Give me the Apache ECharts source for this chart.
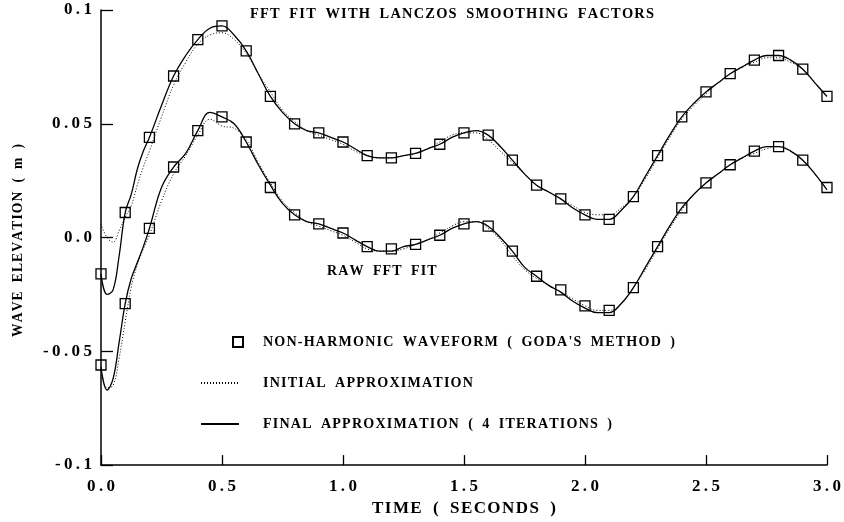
<!DOCTYPE html>
<html>
<head>
<meta charset="utf-8">
<script src="https://cdn.jsdelivr.net/npm/echarts@6/dist/echarts.min.js"></script>
<style>
  html, body { margin: 0; padding: 0; background: #fff; }
  #chart { width: 844px; height: 522px; }
</style>
</head>
<body>
<div id="chart"></div>
<script>
// Sample times (s) of the non-harmonic waveform (Goda's method)
const sampleTime = [0.0, 0.1, 0.2, 0.3, 0.4, 0.5, 0.6, 0.7, 0.8, 0.9, 1.0,
  1.1, 1.2, 1.3, 1.4, 1.5, 1.6, 1.7, 1.8, 1.9, 2.0,
  2.1, 2.2, 2.3, 2.4, 2.5, 2.6, 2.7, 2.8, 2.9, 3.0];

// Goda waveform, plotted with the Lanczos-smoothed fit (offset upward)
const godaLanczos = [-0.016, 0.011, 0.044, 0.071, 0.087, 0.093, 0.082, 0.062, 0.050, 0.046, 0.042,
  0.036, 0.035, 0.037, 0.041, 0.046, 0.045, 0.034, 0.023, 0.017, 0.010,
  0.008, 0.018, 0.036, 0.053, 0.064, 0.072, 0.078, 0.080, 0.074, 0.062];

// Goda waveform, plotted with the raw FFT fit
const godaRaw = [-0.056, -0.029, 0.004, 0.031, 0.047, 0.053, 0.042, 0.022, 0.010, 0.006, 0.002,
  -0.004, -0.005, -0.003, 0.001, 0.006, 0.005, -0.006, -0.017, -0.023, -0.030,
  -0.032, -0.022, -0.004, 0.013, 0.024, 0.032, 0.038, 0.040, 0.034, 0.022];

// Times (s) at which the fitted curves are given
const curveTime = [0, 0.025, 0.05, 0.075, 0.1, 0.125, 0.15, 0.175, 0.2,
  0.25, 0.3, 0.35, 0.4, 0.45, 0.5, 0.55, 0.6, 0.65, 0.7, 0.75, 0.8, 0.85, 0.9, 0.95, 1.0,
  1.05, 1.1, 1.15, 1.2, 1.25, 1.3, 1.35, 1.4, 1.45, 1.5, 1.55, 1.6, 1.65, 1.7, 1.75, 1.8,
  1.85, 1.9, 1.95, 2.0, 2.05, 2.1, 2.15, 2.2, 2.25, 2.3, 2.35, 2.4, 2.45, 2.5, 2.55, 2.6,
  2.65, 2.7, 2.75, 2.8, 2.85, 2.9, 2.95, 3.0];

// Lanczos-smoothed fit: final approximation (4 iterations)
const lanczosFinal = [-0.016, -0.025, -0.023, -0.008, 0.011, 0.019, 0.030, 0.038, 0.044,
  0.058, 0.071, 0.080, 0.087, 0.092, 0.093, 0.089, 0.082, 0.072, 0.062, 0.055, 0.050, 0.047, 0.046, 0.044, 0.042,
  0.039, 0.036, 0.035, 0.035, 0.036, 0.037, 0.039, 0.041, 0.044, 0.046, 0.047, 0.045, 0.040, 0.034, 0.028, 0.023,
  0.020, 0.017, 0.013, 0.010, 0.008, 0.008, 0.012, 0.018, 0.027, 0.036, 0.045, 0.053, 0.059, 0.064, 0.068, 0.072,
  0.075, 0.078, 0.080, 0.080, 0.078, 0.074, 0.068, 0.062];

// Lanczos-smoothed fit: initial approximation
const lanczosInitial = [0.006, 0.000, -0.002, 0.003, 0.009, 0.014, 0.023, 0.031, 0.038,
  0.053, 0.067, 0.077, 0.085, 0.089, 0.090, 0.087, 0.081, 0.072, 0.064, 0.056, 0.051, 0.047, 0.045, 0.043, 0.041,
  0.038, 0.036, 0.035, 0.035, 0.036, 0.037, 0.039, 0.042, 0.045, 0.046, 0.046, 0.043, 0.038, 0.033, 0.028, 0.023,
  0.020, 0.017, 0.014, 0.011, 0.010, 0.010, 0.013, 0.018, 0.026, 0.035, 0.044, 0.052, 0.058, 0.063, 0.068, 0.072,
  0.075, 0.077, 0.079, 0.079, 0.077, 0.074, 0.068, 0.062];

// Raw FFT fit: final approximation (4 iterations)
const rawFinal = [-0.057, -0.067, -0.062, -0.046, -0.029, -0.018, -0.011, -0.004, 0.004,
  0.022, 0.031, 0.037, 0.047, 0.055, 0.053, 0.050, 0.042, 0.032, 0.023, 0.015, 0.010, 0.007, 0.006, 0.004, 0.002,
  -0.001, -0.004, -0.006, -0.006, -0.004, -0.003, -0.001, 0.001, 0.004, 0.006, 0.007, 0.005, 0.000, -0.006, -0.013, -0.017,
  -0.021, -0.024, -0.028, -0.031, -0.033, -0.033, -0.029, -0.022, -0.013, -0.004, 0.005, 0.013, 0.019, 0.024, 0.028, 0.032,
  0.035, 0.038, 0.040, 0.040, 0.038, 0.034, 0.028, 0.021];

// Raw FFT fit: initial approximation
const rawInitial = [-0.058, -0.066, -0.065, -0.053, -0.037, -0.022, -0.012, -0.005, 0.001,
  0.016, 0.028, 0.036, 0.045, 0.052, 0.049, 0.048, 0.043, 0.033, 0.024, 0.016, 0.011, 0.007, 0.005, 0.003, 0.001,
  -0.002, -0.005, -0.006, -0.006, -0.005, -0.003, -0.001, 0.002, 0.005, 0.007, 0.007, 0.004, -0.001, -0.008, -0.014, -0.018,
  -0.021, -0.024, -0.027, -0.030, -0.032, -0.032, -0.029, -0.022, -0.014, -0.005, 0.004, 0.012, 0.019, 0.024, 0.028, 0.032,
  0.035, 0.037, 0.039, 0.040, 0.038, 0.034, 0.028, 0.021];

const NAME_GODA = "NON-HARMONIC WAVEFORM ( GODA'S METHOD )";
const NAME_INITIAL = 'INITIAL APPROXIMATION';
const NAME_FINAL = 'FINAL APPROXIMATION ( 4 ITERATIONS )';

const FONT = "'Liberation Serif', 'DejaVu Serif', serif";
// Plotter-style lettering: hair spaces between letters, en spaces between words
const spaced = s => s.split('').map(c => (c === ' ' ? '\u2002' : c)).join('\u200A');
// Tick numbers get a slightly wider tracking
const spacedNum = s => s.split('').join('\u2009');

const zip = (xs, ys) => xs.map((x, i) => [x, ys[i]]);

const txt = size => ({ fontFamily: FONT, fontWeight: 'bold', fontSize: size, color: '#000' });

const lineSeries = (name, values, dotted) => ({
  type: 'line',
  name: name,
  data: zip(curveTime, values),
  smooth: 0.4,
  symbol: 'none',
  silent: true,
  itemStyle: { color: '#000' },
  lineStyle: dotted
    ? { color: '#000', width: 1, type: [1, 2] }
    : { color: '#000', width: 1.3, type: 'solid' },
  z: dotted ? 2 : 3
});

const markerSeries = values => ({
  type: 'scatter',
  name: NAME_GODA,
  data: zip(sampleTime, values),
  symbol: 'rect',
  symbolSize: 10,
  silent: true,
  itemStyle: { color: 'rgba(255,255,255,0)', borderColor: '#000', borderWidth: 1.3, opacity: 1 },
  z: 5
});

// Legend rows for the two curve styles: the line sample only, no point symbol
const curveLegend = (name, top) => ({
  data: [name], left: 200, top: top, orient: 'vertical',
  padding: 0, itemWidth: 38, itemHeight: 10, selectedMode: false,
  itemStyle: { opacity: 0 },
  formatter: spaced, textStyle: Object.assign(txt(14.1), { padding: [0, 0, 0, 19] })
});

const chart = echarts.init(document.getElementById('chart'), null, { renderer: 'canvas' });

chart.setOption({
  animation: false,
  backgroundColor: '#fff',
  title: [
    { text: spaced('FFT FIT WITH LANCZOS SMOOTHING FACTORS'), left: 250, top: 7, padding: 0,
      textStyle: txt(14.45) },
    { text: spaced('RAW FFT FIT'), left: 327, top: 264, padding: 0, textStyle: txt(14) }
  ],
  legend: [
    { data: [{ name: NAME_GODA, icon: 'rect' }], left: 232, top: 335, orient: 'vertical',
      padding: 0, itemWidth: 10, itemHeight: 10, selectedMode: false,
      formatter: spaced, textStyle: Object.assign(txt(14.1), { padding: [0, 0, 0, 15] }) },
    curveLegend(NAME_INITIAL, 376),
    curveLegend(NAME_FINAL, 417)
  ],
  grid: { left: 101, right: 17, top: 10, bottom: 56, containLabel: false },
  xAxis: {
    type: 'value', min: 0, max: 3, interval: 0.5,
    name: spaced('TIME ( SECONDS )'), nameLocation: 'middle', nameGap: 31,
    nameTextStyle: txt(17),
    axisLine: { show: true, onZero: false, lineStyle: { color: '#000', width: 1.5 } },
    axisTick: { show: true, inside: true, length: 10, lineStyle: { color: '#000', width: 1.3 } },
    axisLabel: { margin: 13, formatter: v => spacedNum(v.toFixed(1)), showMinLabel: true, showMaxLabel: true,
      ...txt(17) },
    splitLine: { show: false }
  },
  yAxis: {
    type: 'value', min: -0.1, max: 0.1, interval: 0.05,
    name: spaced('WAVE ELEVATION ( m )'), nameLocation: 'middle', nameGap: 76, nameRotate: 90,
    nameTextStyle: Object.assign(txt(13.6), { padding: [0, 6, 0, 0] }),
    axisLine: { show: true, onZero: false, lineStyle: { color: '#000', width: 1.5 } },
    axisTick: { show: true, inside: true, length: 12, lineStyle: { color: '#000', width: 1.3 } },
    axisLabel: { margin: 9, formatter: v => spacedNum(Math.abs(v) < 1e-9 ? '0.0' : String(Number(v.toFixed(2)))),
      showMinLabel: true, showMaxLabel: true, ...txt(17) },
    splitLine: { show: false }
  },
  series: [
    lineSeries(NAME_INITIAL, lanczosInitial, true),
    lineSeries(NAME_INITIAL, rawInitial, true),
    lineSeries(NAME_FINAL, lanczosFinal, false),
    lineSeries(NAME_FINAL, rawFinal, false),
    markerSeries(godaLanczos),
    markerSeries(godaRaw)
  ]
});
</script>
</body>
</html>
